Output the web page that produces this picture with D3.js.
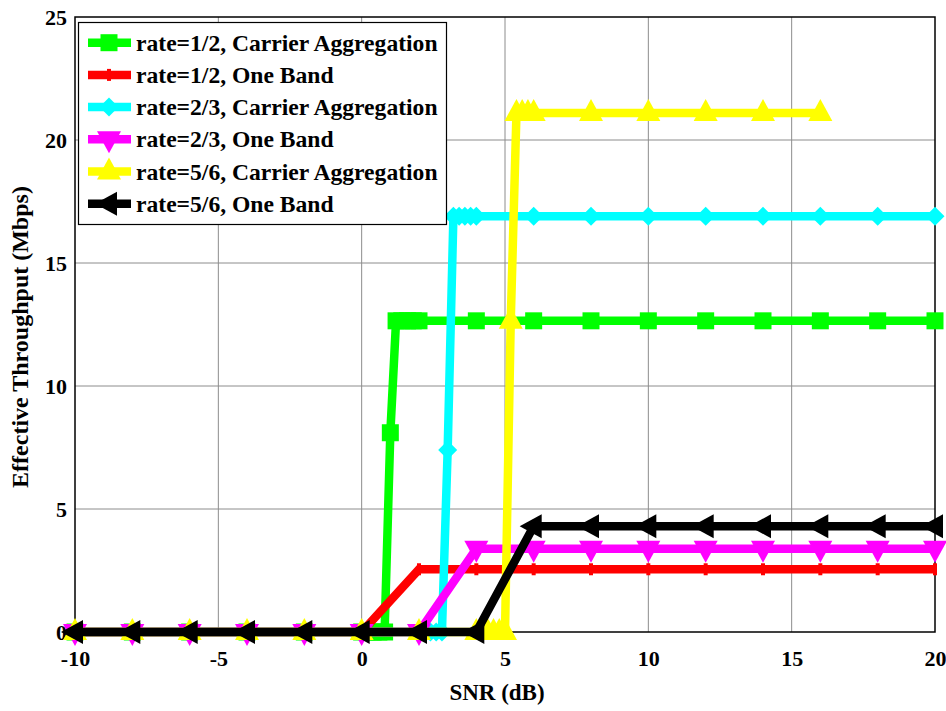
<!DOCTYPE html>
<html>
<head>
  <meta charset="utf-8">
  <title>Effective Throughput vs SNR</title>
  <script src="https://d3js.org/d3.v7.min.js"></script>
  <style>
    body { margin: 0; background: #fff; }
    text { font-family: "Liberation Serif", "Times New Roman", serif; font-weight: bold; }
  </style>
</head>
<body>
  <div id="chart1"></div>

  <script>
    // data
    const base = [-10, -8, -6, -4, -2, 0];
    const coarse = [2, 4, 6, 8, 10, 12, 14, 16, 18, 20];

    const snrGreen = base.concat([0.2, 0.4, 0.6, 0.8, 1.0, 1.2, 1.4, 1.6, 1.8, 2, 4, 6, 8, 10, 12, 14, 16, 18, 20]);
    const tputGreen = [0, 0, 0, 0, 0, 0, 0, 0, 0, 0, 8.1, 12.65, 12.65, 12.65, 12.65, 12.65, 12.65, 12.65, 12.65, 12.65, 12.65, 12.65, 12.65, 12.65, 12.65];

    const snrRed = base.concat(coarse);
    const tputRed = [0, 0, 0, 0, 0, 0, 2.55, 2.55, 2.55, 2.55, 2.55, 2.55, 2.55, 2.55, 2.55, 2.55];

    const snrCyan = base.concat([2, 2.2, 2.4, 2.6, 2.8, 3.0, 3.2, 3.4, 3.6, 3.8, 4, 6, 8, 10, 12, 14, 16, 18, 20]);
    const tputCyan = [0, 0, 0, 0, 0, 0, 0, 0, 0, 0, 0, 7.4, 16.9, 16.9, 16.9, 16.9, 16.9, 16.9, 16.9, 16.9, 16.9, 16.9, 16.9, 16.9, 16.9];

    const snrMagenta = base.concat(coarse);
    const tputMagenta = [0, 0, 0, 0, 0, 0, 0, 3.38, 3.38, 3.38, 3.38, 3.38, 3.38, 3.38, 3.38, 3.38];

    const snrYellow = base.concat([2, 4, 4.2, 4.4, 4.6, 4.8, 5.0, 5.2, 5.4, 5.6, 5.8, 6, 8, 10, 12, 14, 16]);
    const tputYellow = [0, 0, 0, 0, 0, 0, 0, 0, 0, 0, 0, 0, 0, 12.65, 21.1, 21.1, 21.1, 21.1, 21.1, 21.1, 21.1, 21.1, 21.1];

    const snrBlack = base.concat(coarse);
    const tputBlack = [0, 0, 0, 0, 0, 0, 0, 0, 4.3, 4.3, 4.3, 4.3, 4.3, 4.3, 4.3, 4.3];

    const seriesNames = ["rate=1/2, Carrier Aggregation", "rate=1/2, One Band", "rate=2/3, Carrier Aggregation",
                         "rate=2/3, One Band", "rate=5/6, Carrier Aggregation", "rate=5/6, One Band"];
    const seriesColors = ["#00ff00", "#ff0000", "#00ffff", "#ff00ff", "#ffff00", "#000000"];
    const seriesMarkers = ["square", "dot", "diamond", "down", "up", "left"];
    const xTicks = [-10, -5, 0, 5, 10, 15, 20];
    const yTicks = [0, 5, 10, 15, 20, 25];

    const seriesX = [snrGreen, snrRed, snrCyan, snrMagenta, snrYellow, snrBlack];
    const seriesY = [tputGreen, tputRed, tputCyan, tputMagenta, tputYellow, tputBlack];

    const W = 946, H = 711;
    const plotL = 75, plotR = 935, plotT = 17, plotB = 632;

    const svg = d3.select("#chart1").append("svg")
      .attr("width", W).attr("height", H);

    const x = d3.scaleLinear().domain([-10, 20]).range([plotL, plotR]);
    const y = d3.scaleLinear().domain([0, 25]).range([plotB, plotT]);

    // grid
    svg.append("g").selectAll("line.gx")
      .data(xTicks.slice(1, -1)).enter().append("line")
      .attr("x1", d => x(d)).attr("x2", d => x(d))
      .attr("y1", plotT).attr("y2", plotB)
      .attr("stroke", "#8c8c8c").attr("stroke-width", 1);
    svg.append("g").selectAll("line.gy")
      .data(yTicks.slice(1, -1)).enter().append("line")
      .attr("x1", plotL).attr("x2", plotR)
      .attr("y1", d => y(d)).attr("y2", d => y(d))
      .attr("stroke", "#8c8c8c").attr("stroke-width", 1);

    // axes
    const xAxis = svg.append("g")
      .attr("transform", "translate(0," + plotB + ")")
      .call(d3.axisBottom(x).tickValues(xTicks).tickFormat(d => String(d)).tickSize(0).tickPadding(18));
    xAxis.select(".domain").remove();
    xAxis.selectAll("text").attr("font-size", 22).attr("fill", "#000")
      .style("font-family", "'Liberation Serif', serif").style("font-weight", "bold");

    const yAxis = svg.append("g")
      .attr("transform", "translate(" + plotL + ",0)")
      .call(d3.axisLeft(y).tickValues(yTicks).tickFormat(d => String(d)).tickSize(0).tickPadding(8));
    yAxis.select(".domain").remove();
    yAxis.selectAll("text").attr("font-size", 22).attr("fill", "#000")
      .style("font-family", "'Liberation Serif', serif").style("font-weight", "bold");

    svg.append("rect")
      .attr("x", plotL).attr("y", plotT)
      .attr("width", plotR - plotL).attr("height", plotB - plotT)
      .attr("fill", "none").attr("stroke", "#000").attr("stroke-width", 1.5);

    function markerPath(type) {
      switch (type) {
        case "square": return "M-8.5,-8.5H8.5V8.5H-8.5Z";
        case "diamond": return "M0,-9.5L9.5,0L0,9.5L-9.5,0Z";
        case "up": return "M0,-14L12,8L-12,8Z";
        case "down": return "M0,14L12,-8L-12,-8Z";
        case "left": return "M-14,0L8,-12L8,12Z";
        default: return "M-2,-6H2V6H-2Z";
      }
    }

    const line = d3.line().x(d => x(d[0])).y(d => y(d[1]));

    seriesNames.forEach(function(name, i) {
      const pts = seriesX[i].map((v, j) => [v, seriesY[i][j]]);
      const g = svg.append("g");
      g.append("path")
        .attr("d", line(pts))
        .attr("fill", "none")
        .attr("stroke", seriesColors[i])
        .attr("stroke-width", 8.5)
        .attr("stroke-linejoin", "miter");
      g.selectAll("path.m")
        .data(pts).enter().append("path")
        .attr("class", "m")
        .attr("transform", d => "translate(" + x(d[0]) + "," + y(d[1]) + ")")
        .attr("d", markerPath(seriesMarkers[i]))
        .attr("fill", seriesColors[i]);
    });

    // legend
    const legend = svg.append("g");
    legend.append("rect")
      .attr("x", 78.5).attr("y", 22.5).attr("width", 368).attr("height", 202)
      .attr("fill", "#fff").attr("stroke", "#000").attr("stroke-width", 1.2);

    seriesNames.forEach(function(name, i) {
      const cy = 42.7 + i * 32.2;
      legend.append("line")
        .attr("x1", 88).attr("x2", 131).attr("y1", cy).attr("y2", cy)
        .attr("stroke", seriesColors[i]).attr("stroke-width", 8.5);
      legend.append("path")
        .attr("transform", "translate(109," + cy + ")")
        .attr("d", markerPath(seriesMarkers[i]))
        .attr("fill", seriesColors[i]);
      legend.append("text")
        .attr("x", 136).attr("y", cy + 8)
        .attr("font-size", 23.6)
        .text(name);
    });

    // axis titles
    svg.append("text")
      .attr("x", 497).attr("y", 700)
      .attr("text-anchor", "middle")
      .attr("font-size", 23)
      .text("SNR (dB)");

    svg.append("text")
      .attr("transform", "translate(28,337) rotate(-90)")
      .attr("text-anchor", "middle")
      .attr("font-size", 24)
      .text("Effective Throughput (Mbps)");
  </script>
</body>
</html>
